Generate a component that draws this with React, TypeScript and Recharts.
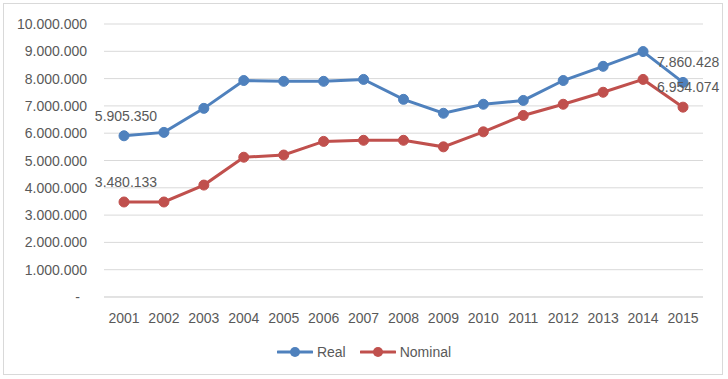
import { CartesianGrid, LabelList, Legend, Line, LineChart, XAxis, YAxis } from "recharts";

const years = ["2001", "2002", "2003", "2004", "2005", "2006", "2007", "2008", "2009", "2010", "2011", "2012", "2013", "2014", "2015"];
const realValues = [5905350, 6030000, 6910000, 7930000, 7900000, 7900000, 7970000, 7240000, 6730000, 7060000, 7200000, 7930000, 8450000, 8990000, 7860428];
const nominalValues = [3480133, 3480000, 4100000, 5120000, 5200000, 5700000, 5740000, 5740000, 5500000, 6050000, 6650000, 7060000, 7500000, 7970000, 6954074];
const yTicks = [0, 1000000, 2000000, 3000000, 4000000, 5000000, 6000000, 7000000, 8000000, 9000000, 10000000];

const rows = years.map((year, i) => ({ year, real: realValues[i], nominal: nominalValues[i] }));

const BLUE = "#4f81bd";
const RED = "#c0504d";
const TEXT = "#595959";
const FONT = "'Liberation Sans', Arial, sans-serif";

const fmt = (v: number) => String(Math.round(v)).replace(/\B(?=(\d{3})+(?!\d))/g, ".");

function YTick({ x, y, payload }: any) {
  const zero = payload.value === 0;
  return (
    <text x={zero ? x - 7 : x} y={y} dy={5} textAnchor="end" fill={TEXT} fontSize={14} fontFamily={FONT}>
      {zero ? "-" : fmt(payload.value)}
    </text>
  );
}

function EndLabel({ x, y, index, value }: any) {
  if (index === 0) {
    return (
      <text x={x + 2} y={y - 15} textAnchor="middle" fill={TEXT} fontSize={14} fontFamily={FONT}>
        {fmt(value)}
      </text>
    );
  }
  if (index === years.length - 1) {
    return (
      <text x={x - 26} y={y - 15} textAnchor="start" fill={TEXT} fontSize={14} fontFamily={FONT}>
        {fmt(value)}
      </text>
    );
  }
  return null;
}

function LegendBox() {
  const items = [
    { name: "Real", color: BLUE },
    { name: "Nominal", color: RED },
  ];
  return (
    <div style={{ display: "flex", justifyContent: "center", gap: 14, paddingTop: 7, paddingLeft: 25, fontFamily: FONT, fontSize: 14, color: TEXT }}>
      {items.map((it) => (
        <div key={it.name} style={{ display: "flex", alignItems: "center" }}>
          <svg width={36} height={14}>
            <line x1={1} y1={7} x2={35} y2={7} stroke={it.color} strokeWidth={3} strokeLinecap="round" />
            <circle cx={18} cy={7} r={5} fill={it.color} />
          </svg>
          <span style={{ marginLeft: 4 }}>{it.name}</span>
        </div>
      ))}
    </div>
  );
}

export default function App() {
  return (
    <div style={{ position: "absolute", left: 0, top: 0, width: 728, height: 379, background: "#fff" }}>
      <div style={{ position: "absolute", left: 3, top: 3, width: 718, height: 370, border: "1px solid #d9d9d9", pointerEvents: "none" }} />
      <LineChart width={728} height={379} data={rows} margin={{ top: 24, right: 25, left: 0, bottom: 12 }}>
        <CartesianGrid vertical={false} stroke="#d9d9d9" />
        <XAxis
          dataKey="year"
          height={40}
          padding={{ left: 20, right: 20 }}
          axisLine={{ stroke: "#d9d9d9" }}
          tickLine={false}
          tickSize={0}
          tickMargin={16}
          tick={{ fill: TEXT, fontSize: 14, fontFamily: FONT }}
          interval={0}
        />
        <YAxis
          width={104}
          domain={[0, 10000000]}
          ticks={yTicks}
          axisLine={false}
          tickLine={false}
          tickSize={0}
          tickMargin={17}
          tick={<YTick />}
          interval={0}
        />
        <Legend verticalAlign="bottom" height={30} content={<LegendBox />} />
        <Line
          dataKey="real"
          name="Real"
          stroke={BLUE}
          strokeWidth={3}
          dot={{ r: 5, fill: BLUE, stroke: BLUE, strokeWidth: 1 }}
          isAnimationActive={false}
        >
          <LabelList dataKey="real" content={<EndLabel />} />
        </Line>
        <Line
          dataKey="nominal"
          name="Nominal"
          stroke={RED}
          strokeWidth={3}
          dot={{ r: 5, fill: RED, stroke: RED, strokeWidth: 1 }}
          isAnimationActive={false}
        >
          <LabelList dataKey="nominal" content={<EndLabel />} />
        </Line>
      </LineChart>
    </div>
  );
}
